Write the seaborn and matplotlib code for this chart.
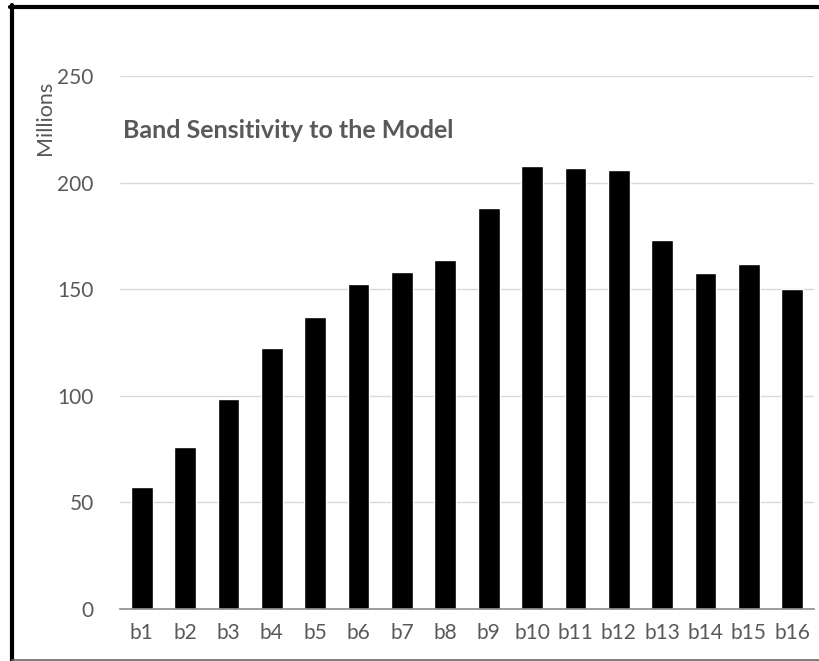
import numpy as np
import pandas as pd
import matplotlib
matplotlib.use("Agg")
import matplotlib.pyplot as plt
import seaborn as sns
from matplotlib.lines import Line2D

# Data (values in millions)
bands = ["b1", "b2", "b3", "b4", "b5", "b6", "b7", "b8",
         "b9", "b10", "b11", "b12", "b13", "b14", "b15", "b16"]
sensitivity = [57, 76, 98.5, 122.5, 137, 152.5, 158, 163.5,
               188, 208, 207, 206, 173, 157.5, 162, 150]
y_ticks = [0, 50, 100, 150, 200, 250]

df = pd.DataFrame({"band": bands, "value": sensitivity})

sns.set_theme(style="white")
plt.rcParams["font.family"] = ["Lato", "DejaVu Sans"]

text_grey = "#595959"

fig = plt.figure(figsize=(8.2, 6.61), dpi=100)
# axes placed to match the plot area in pixels
W, H = 820, 661
ax = fig.add_axes([120 / W, (H - 609) / H, (814 - 120) / W, (609 - 76) / H])

sns.barplot(data=df, x="band", y="value", color="black", width=0.5,
            saturation=1, ax=ax)

ax.set_ylim(0, 250)
ax.set_xlim(-0.5, len(bands) - 0.5)
ax.set_yticks(y_ticks)
ax.set_xlabel("")
ax.set_ylabel("")

# light horizontal gridlines
ax.yaxis.grid(True, color="#d9d9d9", linewidth=1)
ax.set_axisbelow(True)
for side in ["top", "right", "left"]:
    ax.spines[side].set_visible(False)
ax.spines["bottom"].set_color("#8c8c8c")
ax.spines["bottom"].set_linewidth(1.2)

ax.tick_params(axis="both", length=0, labelsize=15, labelcolor=text_grey)
ax.tick_params(axis="y", pad=19)
ax.tick_params(axis="x", pad=10)

# title sits inside the plot area
ax.text(123 / W, (H - 130) / H, "Band Sensitivity to the Model",
        transform=fig.transFigure, fontsize=18, fontweight="bold",
        color=text_grey, ha="left", va="center")

fig.text(45 / W, (H - 118) / H, "Millions", rotation=90,
         fontsize=15.5, color=text_grey, ha="center", va="center")

# outer frame of the screenshot (thick top/left, thin grey bottom)
fig.add_artist(Line2D([10 / W, 1.0], [(H - 7) / H, (H - 7) / H],
                      transform=fig.transFigure, color="black", linewidth=3))
fig.add_artist(Line2D([12 / W, 12 / W], [0, (H - 5) / H],
                      transform=fig.transFigure, color="black", linewidth=3))
fig.add_artist(Line2D([12 / W, 1.0], [1 / H, 1 / H],
                      transform=fig.transFigure, color="#666666", linewidth=1.2))

fig.savefig("out.png", dpi=100)
